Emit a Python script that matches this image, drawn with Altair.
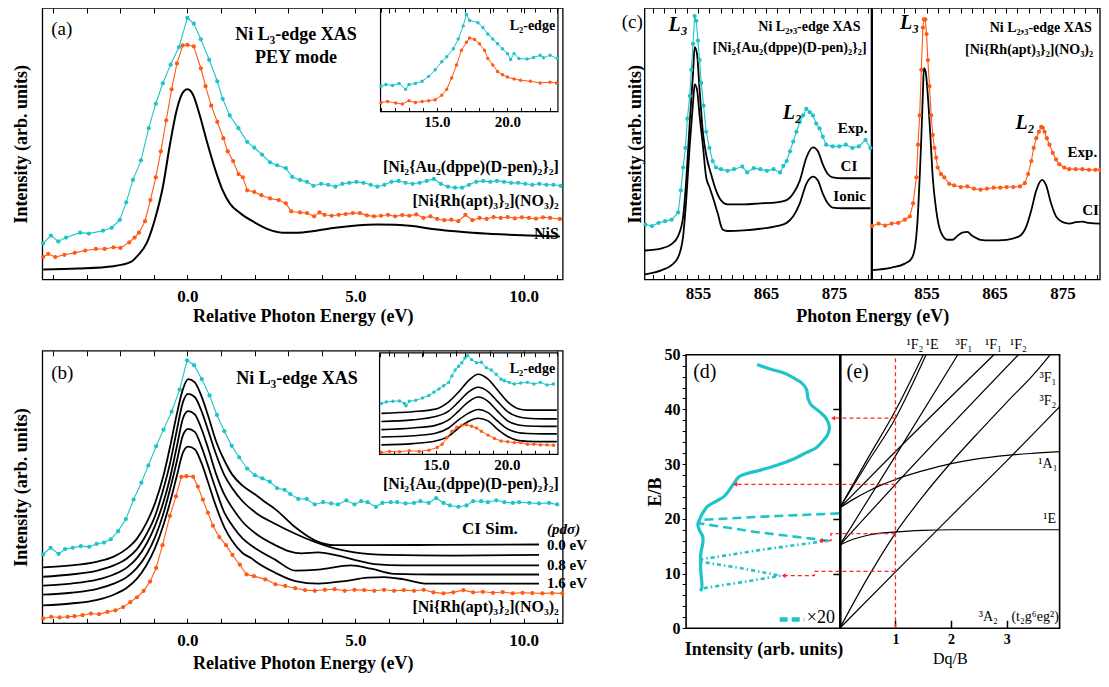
import altair as alt
import pandas as pd

# ======================= data =======================
# ---- panel (a): Ni L3-edge XAS, PEY mode (relative energy eV / intensity arb.)
A_CYAN_E = [-4.29,-4.06,-3.84,-3.61,-3.19,-2.93,-2.51,-2.25,-2.01,-1.82,-1.62,-1.38,-1.15,-0.94,-0.73,-0.50,-0.25,0.00,0.19,0.40,0.65,0.89,1.05,1.26,1.52,1.78,1.99,2.22,2.46,2.67,2.93,3.12,
            3.35,3.56,3.75,3.98,4.19,4.40,4.61,4.82,5.03,5.24,5.45,5.65,5.86,6.07,6.28,6.49,6.70,6.91,7.12,7.33,7.54,7.75,7.96,8.17,8.38,8.59,8.80,9.01,9.21,9.42,9.63,9.84,10.05,10.26,10.47,10.68,10.89,11.10]
A_CYAN_I = [37,45,39,43,48,47,50,53,61,79,102,122,155,180,201,220,238,268,262,246,225,203,185,168,155,141,135,128,120,117,114,105,
            102,100,96,98,97,95,98,99,100,99,97,95,97,100,101,99,98,99,101,103,98,95,94,94,97,100,101,100,101,100,99,99,98,97,98,97,97,96]
A_ORANGE_E = [-4.29,-4.14,-3.93,-3.66,-3.35,-3.04,-2.72,-2.46,-2.20,-1.99,-1.73,-1.57,-1.44,-1.26,-1.10,-0.94,-0.79,-0.63,-0.47,-0.31,-0.14,0.00,0.19,0.40,0.54,0.71,0.89,1.07,1.20,1.36,1.52,1.65,1.78,1.99,2.20,2.46,2.72,2.93,3.09,
              3.35,3.56,3.77,3.93,4.08,4.29,4.50,4.71,4.92,5.13,5.34,5.55,5.76,5.97,6.18,6.39,6.60,6.81,7.02,7.23,7.43,7.64,7.85,8.06,8.27,8.48,8.69,8.90,9.11,9.32,9.53,9.74,9.95,10.16,10.37,10.58,10.79,11.08]
A_ORANGE_I = [23,26.3,23,25.3,27.3,29.7,31.3,31.3,33,32.3,38,43,48,59.7,81.3,104.7,131.3,163,194.7,221.3,239.7,240.3,238.7,216.3,198,178,161.3,144.7,131.3,121.3,108,104.7,91.3,89.7,86.3,83,81.3,78,69.7,
              68.7,68,64.7,68.7,66.3,65.3,66.3,67,68,68,65.7,64.7,65.3,66.3,64.7,66,65.3,66.7,63,64.7,62,60.7,61.3,59.7,66.3,60.7,63,62,64,63,64,62.7,63.7,63,62.3,63.7,63,62]
A_NIS_E = [-4.29,-3.25,-2.20,-1.68,-1.47,-1.20,-0.94,-0.73,-0.52,-0.31,-0.10,0.00,0.16,0.37,0.58,0.84,1.05,1.26,1.57,1.99,2.41,2.83,3.25,3.77,4.40,5.03,5.65,6.18,6.70,7.23,7.85,8.48,9.32,10.37,11.08]
A_NIS_I = [10.3,11.3,13.7,18,24.7,38,64.7,94.7,138,174.7,193,194.7,189.7,168,141.3,111.3,91.3,78,68,58.7,51.3,48,48,49.7,53,55.3,56.3,56,54.7,52,49.7,48,46.3,44.7,44]
# inset of (a): L2-edge
AI_CYAN_E = [11.03,11.38,11.85,12.32,12.78,13.02,13.48,13.95,14.42,14.88,15.35,15.70,16.17,16.52,16.87,17.10,17.33,17.92,18.27,18.62,18.97,19.31,19.66,20.01,20.24,20.48,20.83,21.41,21.87,22.34,22.57,23.04,23.55]
AI_CYAN_I = [26,27.7,26.7,28.7,22.7,27.7,28.7,31,36,42.7,51,56,64.3,74.3,87.7,99.3,93.3,91,86,79.3,74.3,69.3,64.3,59.3,53.3,59.3,54.3,53.7,55.3,57.7,55,57.7,54.3]
AI_ORANGE_E = [11.03,11.50,12.08,12.55,13.02,13.48,13.95,14.42,14.88,15.35,15.70,16.05,16.40,16.75,17.10,17.33,17.68,18.03,18.38,18.62,18.97,19.31,19.66,20.01,20.48,20.94,21.64,22.34,23.04,23.50]
AI_ORANGE_I = [9.3,10.3,8.7,7.7,11,9.3,10.3,11,12,16.7,22.7,34.3,47.7,62.7,71,75.3,73.7,69.3,62.7,54.3,47.7,41,37.7,35.3,33.3,32,31,29.3,30,29.3]

# ---- panel (b): experiment vs CI simulations
B_CYAN_E = [-4.29,-4.07,-3.83,-3.64,-3.41,-3.17,-2.92,-2.70,-2.48,-2.28,-2.06,-1.83,-1.60,-1.37,-1.16,-0.93,-0.71,-0.47,-0.23,-0.01,0.20,0.43,0.66,0.88,1.10,1.32,1.54,1.78,2.01,2.23,2.45,2.67,2.89,
            3.06,3.30,3.55,3.79,4.04,4.28,4.48,4.73,4.97,5.17,5.36,5.61,5.80,6.05,6.24,6.49,6.74,6.93,7.18,7.40,7.62,7.81,8.06,8.30,8.50,8.74,8.94,9.19,9.43,9.68,9.87,10.17,10.46,10.76,11.00]
B_CYAN_I = [70.7,77.3,71,76,77.3,79,78.3,81.3,82.7,86,94.3,106.7,126.7,144,161.7,181.3,198.3,216.7,239.3,269.3,264.3,250,233.3,213.3,196.7,181.7,170,158.3,151.7,148.3,145,138.3,136.7,
            132.3,127.3,127.3,121.7,124,122.7,121.7,126,121.7,125,124,119.3,123.3,124,124,122.7,123.3,125,123.3,128.3,123.3,120.7,119.3,120.7,125,125,124,126,124,123.3,124,123.3,122.7,123.3,121.7]
B_ORANGE_E = [-4.29,-4.05,-3.80,-3.56,-3.36,-3.12,-2.87,-2.63,-2.38,-2.14,-1.91,-1.70,-1.50,-1.30,-1.11,-0.93,-0.74,-0.52,-0.34,-0.18,-0.03,0.17,0.31,0.46,0.61,0.76,0.95,1.15,1.34,1.56,1.76,1.98,
              2.32,2.62,2.91,3.21,3.50,3.79,4.09,4.38,4.68,4.97,5.26,5.56,5.85,6.15,6.44,6.74,7.03,7.32,7.62,7.91,8.21,8.50,8.79,9.09,9.38,9.68,9.97,10.26,10.56,10.85,11.15]
B_ORANGE_I = [5,6.7,6,6.7,7.3,8.3,10,9.3,11.7,13.3,16.7,21.7,26.7,33.3,42.7,56.7,80,110,130,150,150.7,150,140,126.7,113.3,100,88.3,80,70,60,50,48.3,
              45,40,38.3,36,34,33.3,34.3,35,33.3,34.3,34,33.3,34.3,33.3,34,33.3,34.3,31.7,30.7,31.7,34,31.7,32.3,31.3,32,30.7,31.3,31,30.7,31,30.7]
B_CI1_E = [-4.29,-3.46,-2.68,-2.19,-1.79,-1.50,-1.21,-0.96,-0.72,-0.52,-0.32,-0.13,0.02,0.22,0.41,0.61,0.85,1.10,1.34,1.64,1.93,2.03,2.32,2.62,3.21,3.79,4.38,5.50,7.50,10.46]
B_CI1_I = [57.3,59.3,63.3,68.3,76.7,86.7,103.3,123.3,150,180,213.3,240,250,246.7,233.3,213.3,186.7,166.7,152,141,134,131.7,124,116.7,98.3,85,80,80,80.3,80.7]
B_CI2_E = [-4.29,-3.46,-2.68,-2.19,-1.79,-1.50,-1.21,-0.96,-0.72,-0.52,-0.32,-0.13,0.02,0.22,0.41,0.61,0.85,1.10,1.34,1.64,1.93,2.03,2.62,3.21,3.79,4.38,4.97,5.95,7.91,10.46]
B_CI2_I = [47.7,50,54,59.3,66.7,76,91.7,110,136.7,163.3,196.7,226.7,235,231.7,218.3,198.3,173.3,151.7,138,125,116,113.3,101.7,91.7,83.3,76.7,72.7,70,69.3,70]
B_CI3_E = [-4.29,-3.46,-2.68,-2.19,-1.79,-1.50,-1.21,-0.96,-0.72,-0.52,-0.32,-0.13,0.02,0.22,0.41,0.61,0.85,1.10,1.34,1.64,2.03,2.62,3.01,3.40,3.89,4.38,4.97,5.56,6.44,10.46]
B_CI3_I = [38.7,40.7,44.7,50,57.3,66.7,81.7,100,123.3,148.3,180,210,217.3,214,200,180,153.3,131.7,118,104,92,80,74,71.7,72.7,70,65,60.7,59.3,59.3]
B_CI4_E = [-4.29,-3.46,-2.68,-2.19,-1.79,-1.50,-1.21,-0.96,-0.72,-0.52,-0.32,-0.13,0.02,0.22,0.41,0.61,0.85,1.10,1.34,1.64,1.93,2.03,2.62,3.21,3.89,4.87,5.46,6.15,7.42,10.46]
B_CI4_I = [29.3,31.3,35.3,40.7,47.7,56.7,70.7,88.3,111.7,136.7,165,192.7,199,196,181.7,161.7,136.7,113.3,100,87,79,76.7,65,54,55,59.3,56,50.7,50,50]
B_CI5_E = [-4.29,-3.46,-2.68,-2.19,-1.79,-1.50,-1.21,-0.96,-0.72,-0.52,-0.32,-0.13,0.02,0.22,0.41,0.61,0.85,1.10,1.34,1.64,1.93,2.03,2.62,3.21,3.89,4.68,5.36,5.85,6.44,7.13,10.46]
B_CI5_I = [18.3,20.3,24,29.3,36.7,45.7,60,77.3,100,123.3,150,175,181,178.3,165,145,120,98.3,84,72,66,63.3,51.7,43.3,40.7,43.3,46.7,47.3,45,40.7,40.7]
# inset of (b)
BI_CYAN_E = [11.13,11.48,11.94,12.41,12.76,12.87,13.10,13.56,14.03,14.49,14.84,15.19,15.53,15.88,16.11,16.34,16.58,16.81,17.03,17.22,17.50,17.85,18.19,18.54,18.89,19.24,19.58,19.81,20.16,20.51,20.97,21.44,21.90,22.36,22.83,23.28]
BI_CYAN_I = [52,53.7,54.3,54.7,52,49.7,54.3,55.3,57.7,60.3,63.7,67,70.3,73.7,80.3,86.3,90.3,93.7,98.7,101,97,93.7,94.3,88.7,86.3,82,77,75.3,73.7,72,73,73.7,72,73.7,71,72]
BI_ORANGE_E = [11.13,11.71,12.41,13.10,13.80,14.49,15.07,15.42,15.76,16.11,16.46,16.81,17.15,17.50,17.85,18.19,18.66,19.12,19.58,20.05,20.51,20.97,21.44,21.90,22.36,22.83,23.29]
BI_ORANGE_I = [2,3,2.7,3.7,3,4.3,7,10.3,17,23.7,27.7,29.7,30.3,28.7,27,23.7,19.7,16.3,13.7,13,12,12,10.3,10.3,9.7,9.7,9.3]
BI_CI_E = [11.13,13.33,14.95,15.88,16.58,17.27,17.97,18.66,19.36,20.05,20.74,21.44,22.59,23.52]
BI_CI1_I = [42,43.7,46.3,53.7,63.7,75.3,82,77,65.3,53.7,47,45.3,45.3,45.3]
BI_CI2_I = [33.7,35.3,38.7,44.3,53.7,63.7,68.7,64.3,53.7,43.7,38.7,37,36.3,36.3]
BI_CI3_I = [25.3,27,29.7,35.3,44.3,53.7,58.7,54.3,43.7,34.3,30.3,29,28.7,28.7]
BI_CI4_I = [17.7,19,21.7,27,35.3,42,46,42.7,33.7,26,22.3,21.3,21,21]
BI_CI5_I = [9.7,11,13.7,18.7,27,33.7,37,34.3,25.3,18.3,14.3,13.3,13,13]

# ---- panel (c): full L2,3-edge (photon energy eV / intensity arb.)
CL_CYAN_E = [847.28,848.24,849.20,850.17,851.13,852.10,852.49,852.83,853.16,853.45,853.80,854.03,854.28,854.52,854.76,855.00,855.24,855.48,855.83,856.21,856.69,857.17,857.66,858.38,859.35,860.32,861.52,862.25,863.21,864.18,865.14,866.11,867.08,867.56,868.04,868.53,869.01,869.49,869.98,870.46,870.94,871.43,871.91,872.39,872.88,873.36,873.84,874.81,875.77,876.74,877.71,878.67,879.64,880.36]
CL_CYAN_I = [56.3,54.7,58,59.7,61.3,68.7,91.3,114.7,134.7,164.7,188,214.7,241.3,269.7,264.7,244.7,224.7,201.3,178,151.3,134.7,121.3,114.7,113,111.3,113,115.7,109.7,114,113,111.3,113,109.7,116.3,121.3,131.3,141.3,151.3,161.3,168,174.7,171.3,168,159.7,154.7,146.3,138,136.3,136.3,138,134.7,136.3,143,134.7]
CL_CI_E = [847.20,849.69,851.13,852.10,852.83,853.31,853.80,854.28,854.52,854.86,855.24,855.72,856.30,856.93,857.66,858.38,859.35,861.76,864.18,866.59,868.04,869.01,869.98,870.94,871.91,872.64,873.36,874.09,874.81,876.26,878.67,880.36]
CL_CI_I = [29.7,32,36.3,44.7,64.7,104.7,161.3,211.3,238,231.3,194.7,151.3,124.7,108,91.3,81.3,77,77,78,79,81.3,88,101.3,124.7,135.3,131.3,118,108,104.7,103.7,103.7,103.7]
CL_ION_E = [847.20,849.69,851.13,852.10,852.83,853.31,853.80,854.28,854.52,854.86,855.24,855.72,856.21,856.69,857.17,857.90,858.62,859.35,861.76,864.18,866.59,868.04,869.01,869.98,870.94,871.91,872.64,873.36,874.09,874.81,876.26,880.36]
CL_ION_I = [5.3,9.7,14.7,23,44.7,84.7,138,181.3,199.7,194.7,168,138,104.7,94.7,84.7,68,51.3,49.7,50.3,52,54.7,58,64.7,78,98,105.3,101.3,88,78,73.7,73,73]
CR_ORANGE_E = [847.00,847.94,848.91,849.88,850.84,851.81,852.54,853.02,853.51,853.74,853.99,854.23,854.46,854.61,854.81,855.00,855.19,855.43,855.68,855.91,856.16,856.41,856.64,857.13,857.61,858.33,859.06,860.03,860.99,861.96,862.93,863.88,864.86,865.83,866.78,867.75,868.72,869.45,869.93,870.41,870.75,871.13,871.52,871.86,872.10,872.35,872.68,873.07,873.55,874.03,874.52,875.25,875.97,876.93,877.90,878.87,879.83,880.50]
CR_ORANGE_I = [54.7,57.3,55.3,57.3,58,61.3,64.7,78,104.7,138,168,214.7,258,266.3,266.3,251.3,224.7,198,168,148,134.7,124.7,114.7,108,104.7,98,96.3,94.7,95.3,93,92,93,94,94,94.7,94.7,95.3,98.7,108,121.3,134.7,144.7,151.3,156.3,155.3,151.3,144.7,138,129.7,123,118,114.7,113,113,113,112.3,112.3,112.3]
CR_CI_E = [847.00,849.88,851.81,852.78,853.26,853.65,853.99,854.23,854.46,854.61,854.86,855.19,855.58,855.91,856.41,857.13,858.09,858.81,859.54,860.26,860.99,861.71,862.93,864.38,866.78,868.72,869.68,870.41,871.13,872.00,872.58,873.30,874.03,875.00,875.97,876.93,877.90,878.87,880.50]
CR_CI_I = [9.7,12.3,16.3,21.3,31.3,58,104.7,144.7,191.3,216.3,213,188,144.7,104.7,71.3,48,40.7,40.7,44.7,48,48.7,44.7,40.7,40,40.7,44.7,54.7,71.3,91.3,102,96.3,78,64.7,58.7,57.3,58.7,59.3,58,57.3]

# ---- panel (d): spectrum plotted on the E/B axis
D_SPEC_I = [45.9,54.3,62.9,69.2,74.5,77.7,78.8,80.9,86.2,90.4,92.6,91.5,88.3,84.1,77.7,69.2,58.6,48.0,39.5,34.2,31.0,27.8,24.6,19.3,14.0,10.8,8.7,7.6,8.7,10.8,10.8,9.7,9.3,9.7,10.2,9.3]
D_SPEC_E = [48.2,47.4,46.7,45.8,44.9,43.75,42.0,40.8,39.6,38.4,36.9,35.4,34.2,33.0,32.1,30.9,29.8,28.9,28.3,27.7,26.5,25.2,24.1,23.2,22.3,21.1,19.9,19.05,17.9,16.7,15.5,14.0,12.2,9.8,7.4,6.8]
D_X20A_I = [99, 50, 9, 8, 45, 92]
D_X20A_E = [21.0, 20.4, 19.8, 19.2, 17.6, 16.0]
D_X20B_I = [92, 50, 10, 8.5, 35, 61, 40, 9]
D_X20B_E = [16.0, 14.4, 12.6, 12.2, 11.0, 9.6, 8.6, 7.2]

# ---- panel (e): Tanabe-Sugano levels (Dq/B, E/B)
TS_LINES = {
    "3T2":  ([0, 1, 2, 3, 3.95], [0, 10.3, 20.5, 30.6, 40.5]),
    "3T1F": ([0, 0.5, 1, 1.5, 2, 2.5, 3, 3.5, 3.78], [0, 9.2, 17.4, 24.2, 30.3, 35.9, 41.3, 46.6, 50]),
    "1E_D": ([0, 0.25, 0.5, 1, 1.5, 2, 2.5, 3.95], [15.2, 16.3, 17.0, 17.6, 17.9, 18.0, 18.0, 18.0]),
    "1A1":  ([0, 0.25, 0.5, 0.75, 1, 1.5, 2, 2.5, 3, 3.5, 3.95], [22.0, 23.6, 25.0, 26.2, 27.2, 28.8, 30.1, 31.0, 31.6, 32.0, 32.3]),
    "1E_G": ([0, 0.5, 1, 1.55], [22.0, 30.3, 38.4, 50]),
    "1T2G": ([0, 0.5, 1, 1.5], [22.0, 31.0, 39.8, 50]),
    "3T1P": ([0, 1, 2.12], [15.2, 31.5, 50]),
    "1T1G": ([0, 1, 2.77], [22.0, 32.3, 50]),
    "1T2D": ([0, 1, 3.21], [15.2, 26.3, 50]),
}
RED_PATHS = [
    ([1, 1], [0, 50]),
    ([1, -0.12], [38.4, 38.4]),
    ([1, -1.88], [26.3, 26.3]),
    ([1, -0.16, -0.16, -0.34], [17.3, 17.3, 16.0, 16.0]),
    ([1, -0.46, -0.46, -1.01], [10.4, 10.4, 9.6, 9.6]),
]
RED_TIPS_DQ = [-0.12, -1.88, -0.34, -1.01]
RED_TIPS_E = [38.4, 26.3, 16.0, 9.6]

# ---- axis domains and ticks
A_XDOM = [-4.31, 11.17]
A_YDOM = [0, 278]
B_YDOM = [0, 279]
IN_XDOM = [11.0, 23.6]
AI_YDOM = [0, 106]
BI_YDOM = [0, 104]
CL_XDOM = [847.17, 880.5]
CR_XDOM = [847.03, 880.5]
C_YDOM = [0, 278]
D_XDOM = [0, 100]
D_YDOM = [0, 50]
E_XDOM = [0, 3.95]
A_TICKS = list(range(-4, 12))
A_LABELS = [0, 5, 10]
IN_TICKS = list(range(11, 24))
IN_LABELS = [15, 20]
C_TICKS = [round(855 + k * 5 / 3, 2) for k in range(-4, 16)]
C_LABELS = [855, 865, 875]
D_TICKS = list(range(0, 51, 2))
E_LABELS = [1, 2, 3]
E_LEFT_TICKS = [10, 20, 30, 40]

# ======================= drawing =======================
W, H = 1093, 671
SX, SY = W / 1109.0, H / 687.0
FONT = "Liberation Serif"
CYAN = "#1fc4c9"
ORANGE = "#ff5a16"
RED = "#ff2424"
ONE = pd.DataFrame({"k": [0]})


def px(v):
    return v * SX


def py(v):
    return v * SY


def scales(xdom, x0, x1, ydom, yb, yt):
    return {
        "x": alt.Scale(domain=list(xdom), range=[px(x0), px(x1)], nice=False, zero=False),
        "y": alt.Scale(domain=list(ydom), range=[py(yb), py(yt)], nice=False, zero=False),
        "xd": list(xdom), "yd": list(ydom),
    }


SA = scales(A_XDOM, 35, 563, A_YDOM, 278, 0)
SAI = scales(IN_XDOM, 378, 558, AI_YDOM, 106, 0)
SB = scales(A_XDOM, 35, 563, B_YDOM, 630, 351)
SBI = scales(IN_XDOM, 377, 558, BI_YDOM, 457, 353)
SCL = scales(CL_XDOM, 646, 876, C_YDOM, 278, 0)
SCR = scales(CR_XDOM, 877, 1108, C_YDOM, 278, 0)
SCT = scales([0, 1], 646, 1108, C_YDOM, 278, 0)
SD = scales(D_XDOM, 688, 845, D_YDOM, 635, 355)
SE = scales(E_XDOM, 844, 1067, D_YDOM, 635, 355)


def xy(S, x, y, xaxis=None, yaxis=None):
    return dict(
        x=alt.XDatum(x, type="quantitative", scale=S["x"], axis=xaxis),
        y=alt.YDatum(y, type="quantitative", scale=S["y"], axis=yaxis),
    )


def series(S, E, I, color, width=1.3, dash=None, interp="linear", points=False, psize=18):
    df = pd.DataFrame({"x": E, "y": I, "o": list(range(len(E)))})
    enc = dict(x=alt.X("x:Q", scale=S["x"], axis=None), y=alt.Y("y:Q", scale=S["y"], axis=None))
    kw = dict(color=color, strokeWidth=width, interpolate=interp)
    if dash:
        kw["strokeDash"] = dash
    out = [alt.Chart(df).mark_line(**kw).encode(order=alt.Order("o:Q"), **enc)]
    if points:
        out.append(alt.Chart(df).mark_circle(color=color, size=psize, opacity=1).encode(**enc))
    return out


def label(S, t, x, y, size=15, weight="bold", align="center", style="normal"):
    return alt.Chart(ONE).mark_text(
        text=t, font=FONT, fontSize=size, fontWeight=weight, fontStyle=style,
        align=align, baseline="middle", color="black"
    ).encode(**xy(S, x, y))


def frame(S, sw=1.3):
    return alt.Chart(ONE).mark_rect(fillOpacity=0, stroke="black", strokeWidth=sw).encode(
        x=alt.XDatum(S["xd"][0], type="quantitative", scale=S["x"], axis=None),
        x2=alt.X2Datum(S["xd"][1]),
        y=alt.YDatum(S["yd"][0], type="quantitative", scale=S["y"], axis=None),
        y2=alt.Y2Datum(S["yd"][1]),
    )


BASE = dict(grid=False, domain=False, labelFont=FONT, titleFont=FONT, labelColor="black",
            titleColor="black", tickColor="black")


def xaxis_layer(S, axis):
    return alt.Chart(ONE).mark_point(opacity=0).encode(**xy(S, S["xd"][0], S["yd"][0], xaxis=axis))


def yaxis_layer(S, axis):
    return alt.Chart(ONE).mark_point(opacity=0).encode(**xy(S, S["xd"][0], S["yd"][0], yaxis=axis))


def ticks_in_bottom(edge, values, size=5):
    return alt.Axis(orient="top", offset=-py(edge), values=values, labels=False, ticks=True,
                    tickSize=size, tickWidth=1, title=None, **BASE)


def ticks_in_top(edge, values, size=5):
    return alt.Axis(orient="bottom", offset=py(edge) - H, values=values, labels=False, ticks=True,
                    tickSize=size, tickWidth=1, title=None, **BASE)


def labels_bottom(edge, values, fmt, size, pad, title=None, tsize=18, tpad=3, tweight="bold"):
    kw = dict(orient="bottom", offset=py(edge) - H, values=values, format=fmt, labels=True,
              ticks=False, labelFontSize=size, labelFontWeight="bold", labelPadding=pad,
              minExtent=0, labelFlush=False, labelOverlap=False, **BASE)
    if title:
        kw.update(title=title, titleFontSize=tsize, titleFontWeight=tweight, titlePadding=tpad)
    else:
        kw["title"] = None
    return alt.Axis(**kw)


def ytitle(edge, title, pad, size=18):
    return alt.Axis(orient="left", offset=-px(edge), labels=False, ticks=False, title=title,
                    titleFontSize=size, titleFontWeight="bold", titlePadding=pad, minExtent=0, **BASE)


layers = []

# ---------------- panel (a) ----------------
layers += [frame(SA), frame(SAI, 1.2)]
layers += series(SA, A_NIS_E, A_NIS_I, "black", width=2.0, interp="monotone")
layers += series(SA, A_ORANGE_E, A_ORANGE_I, ORANGE, width=1.1, points=True)
layers += series(SA, A_CYAN_E, A_CYAN_I, CYAN, width=1.1, points=True)
layers += series(SAI, AI_ORANGE_E, AI_ORANGE_I, ORANGE, width=1.0, points=True, psize=12)
layers += series(SAI, AI_CYAN_E, AI_CYAN_I, CYAN, width=1.0, points=True, psize=12)
layers += [
    xaxis_layer(SA, ticks_in_bottom(278, A_TICKS)),
    xaxis_layer(SA, ticks_in_top(0, A_TICKS)),
    xaxis_layer(SA, labels_bottom(278, A_LABELS, ".1f", 17, 9, "Relative Photon Energy (eV)", tpad=3)),
    yaxis_layer(SA, ytitle(35, "Intensity (arb. units)", 12)),
    xaxis_layer(SAI, ticks_in_bottom(106, IN_TICKS, 4)),
    xaxis_layer(SAI, ticks_in_top(0, IN_TICKS, 4)),
    xaxis_layer(SAI, labels_bottom(106, IN_LABELS, ".1f", 15, 3)),
    label(SA, "(a)", -4.05, 256, size=19, weight="normal", align="left"),
    label(SA, "Ni L₃-edge XAS", 3.23, 250, size=18),
    label(SA, "PEY mode", 3.23, 227, size=18),
    label(SA, "[Ni₂{Au₂(dppe)(D-pen)₂}₂]", 11.05, 115, size=16, align="right"),
    label(SA, "[Ni{Rh(apt)₃}₂](NO₃)₂", 11.05, 80, size=16, align="right"),
    label(SA, "NiS", 11.05, 47, size=16, align="right"),
    label(SAI, "L₂-edge", 23.4, 88, size=14, align="right"),
]

# ---------------- panel (b) ----------------
layers += [frame(SB), frame(SBI, 1.2)]
for ci_e, ci_i in [(B_CI1_E, B_CI1_I), (B_CI2_E, B_CI2_I), (B_CI3_E, B_CI3_I),
                   (B_CI4_E, B_CI4_I), (B_CI5_E, B_CI5_I)]:
    layers += series(SB, ci_e, ci_i, "black", width=1.8, interp="monotone")
layers += series(SB, B_ORANGE_E, B_ORANGE_I, ORANGE, width=1.1, points=True)
layers += series(SB, B_CYAN_E, B_CYAN_I, CYAN, width=1.1, points=True)
for ci_i in [BI_CI1_I, BI_CI2_I, BI_CI3_I, BI_CI4_I, BI_CI5_I]:
    layers += series(SBI, BI_CI_E, ci_i, "black", width=1.6, interp="monotone")
layers += series(SBI, BI_ORANGE_E, BI_ORANGE_I, ORANGE, width=1.0, points=True, psize=12)
layers += series(SBI, BI_CYAN_E, BI_CYAN_I, CYAN, width=1.0, points=True, psize=12)
layers += [
    xaxis_layer(SB, ticks_in_bottom(630, A_TICKS)),
    xaxis_layer(SB, ticks_in_top(351, A_TICKS)),
    xaxis_layer(SB, labels_bottom(630, A_LABELS, ".1f", 17, 9, "Relative Photon Energy (eV)", tpad=6)),
    yaxis_layer(SB, ytitle(35, "Intensity (arb. units)", 12)),
    xaxis_layer(SBI, ticks_in_bottom(457, IN_TICKS, 4)),
    xaxis_layer(SBI, ticks_in_top(353, IN_TICKS, 4)),
    xaxis_layer(SBI, labels_bottom(457, IN_LABELS, ".1f", 15, 3)),
    label(SB, "(b)", -4.05, 256, size=19, weight="normal", align="left"),
    label(SB, "Ni L₃-edge XAS", 3.26, 250, size=18),
    label(SB, "[Ni₂{Au₂(dppe)(D-pen)₂}₂]", 11.05, 143, size=16, align="right"),
    label(SB, "CI Sim.", 9.0, 97, size=17),
    label(SB, "(pdσ)", 10.7, 97, size=15, align="left", style="italic"),
    label(SB, "0.0 eV", 10.7, 80, size=15, align="left"),
    label(SB, "0.8 eV", 10.7, 59.3, size=15, align="left"),
    label(SB, "1.6 eV", 10.7, 41, size=15, align="left"),
    label(SB, "[Ni{Rh(apt)₃}₂](NO₃)₂", 11.05, 17, size=16, align="right"),
    label(SBI, "L₂-edge", 23.4, 87, size=14, align="right"),
]

# ---------------- panel (c) ----------------
layers += [frame(SCL), frame(SCR)]
layers += series(SCL, CL_ION_E, CL_ION_I, "black", width=1.8, interp="monotone")
layers += series(SCL, CL_CI_E, CL_CI_I, "black", width=1.8, interp="monotone")
layers += series(SCL, CL_CYAN_E, CL_CYAN_I, CYAN, width=1.1, points=True)
layers += series(SCR, CR_CI_E, CR_CI_I, "black", width=1.8, interp="monotone")
layers += series(SCR, CR_ORANGE_E, CR_ORANGE_I, ORANGE, width=1.1, points=True)
for S in (SCL, SCR):
    layers += [
        xaxis_layer(S, ticks_in_bottom(278, C_TICKS, 5)),
        xaxis_layer(S, ticks_in_top(0, C_TICKS, 5)),
        xaxis_layer(S, labels_bottom(278, C_LABELS, "d", 17, 6)),
    ]
layers += [
    xaxis_layer(SCT, alt.Axis(orient="bottom", offset=py(278) - H, labels=False, ticks=False,
                              title="Photon Energy (eV)", titleFontSize=18, titleFontWeight="bold",
                              titlePadding=28, minExtent=0, **BASE)),
    yaxis_layer(SCL, ytitle(646, "Intensity (arb. units)", 0)),
    label(SCL, "(c)", 846.9, 264, size=19, weight="normal", align="right"),
    label(SCL, "L₃", 852.1, 261, size=20, style="italic"),
    label(SCL, "Ni L₂,₃-edge XAS", 878.9, 259, size=14, align="right"),
    label(SCL, "[Ni₂{Au₂(dppe)(D-pen)₂}₂]", 879.8, 237, size=14, align="right"),
    label(SCL, "L₂", 868.9, 171, size=20, style="italic"),
    label(SCL, "Exp.", 877.75, 155, size=15),
    label(SCL, "CI", 877.2, 116, size=15),
    label(SCL, "Ionic", 877.3, 86, size=15),
    label(SCR, "L₃", 852.5, 263, size=20, style="italic"),
    label(SCR, "Ni L₂,₃-edge XAS", 879.3, 258, size=14, align="right"),
    label(SCR, "[Ni{Rh(apt)₃}₂](NO₃)₂", 879.5, 235, size=14, align="right"),
    label(SCR, "L₂", 869.5, 160, size=20, style="italic"),
    label(SCR, "Exp.", 877.9, 131, size=15),
    label(SCR, "CI", 879.1, 71, size=15),
]

# ---------------- panel (d) ----------------
layers += [frame(SD, 1.6)]
layers += series(SD, D_SPEC_I, D_SPEC_E, CYAN, width=3.2, interp="catmull-rom")
layers += series(SD, D_X20A_I, D_X20A_E, CYAN, width=2.6, dash=[9, 5])
layers += series(SD, D_X20B_I, D_X20B_E, CYAN, width=2.6, dash=[4, 3, 1.5, 3])
layers += series(SD, [60.5, 76.4], [1.6, 1.6], CYAN, width=4.5, dash=[8, 4])
layers += [
    yaxis_layer(SD, alt.Axis(orient="left", offset=-px(688), values=D_TICKS,
                             labelExpr="datum.value % 10 === 0 ? datum.label : ''",
                             ticks=True, tickSize=4, tickWidth=1, labelFontSize=16, labelFontWeight="bold",
                             labelPadding=2, labelFlush=False, labelOverlap=False,
                             title="E/B", titleFontSize=18, titleFontWeight="bold", titlePadding=0,
                             minExtent=0, **BASE)),
    xaxis_layer(SD, alt.Axis(orient="bottom", offset=py(635) - H, labels=False, ticks=False,
                             title="Intensity (arb. units)", titleFontSize=18, titleFontWeight="bold",
                             titlePadding=12, minExtent=0, **BASE)),
    label(SD, "(d)", 12.1, 46.8, size=20, weight="normal"),
    label(SD, "×20", 78, 1.8, size=18, weight="normal", align="left"),
]

# ---------------- panel (e) ----------------
layers += [frame(SE, 1.6)]
for name, (dq, ee) in TS_LINES.items():
    layers += series(SE, dq, ee, "black", width=1.2, interp="monotone")
for dq, ee in RED_PATHS:
    layers += series(SE, dq, ee, RED, width=1.3, dash=[4, 3])
tips = pd.DataFrame({"x": RED_TIPS_DQ, "y": RED_TIPS_E})
layers += [
    alt.Chart(tips).mark_point(shape="triangle-left", filled=True, color=RED, size=22, opacity=1).encode(
        x=alt.X("x:Q", scale=SE["x"], axis=None), y=alt.Y("y:Q", scale=SE["y"], axis=None)),
    xaxis_layer(SE, alt.Axis(orient="top", offset=-py(635), values=E_LABELS, labels=False, ticks=True,
                             tickSize=8, tickWidth=1.5, title=None, **BASE)),
    xaxis_layer(SE, labels_bottom(635, E_LABELS, "d", 14, 4, "Dq/B", tsize=16, tpad=4, tweight="normal")),
    yaxis_layer(SE, alt.Axis(orient="left", offset=-px(845), values=E_LEFT_TICKS, labels=False,
                             ticks=True, tickSize=8, tickWidth=1.5, title=None, **BASE)),
    label(SE, "(e)", 0.32, 46.8, size=20, weight="normal"),
    label(SE, "¹F₂", 1.35, 51.7, size=14, weight="normal"),
    label(SE, "¹E", 1.66, 51.7, size=14, weight="normal"),
    label(SE, "³F₁", 2.23, 51.7, size=14, weight="normal"),
    label(SE, "¹F₁", 2.76, 51.7, size=14, weight="normal"),
    label(SE, "¹F₂", 3.21, 51.7, size=14, weight="normal"),
    label(SE, "³F₁", 3.74, 45.7, size=14, weight="normal"),
    label(SE, "³F₂", 3.74, 41.6, size=14, weight="normal"),
    label(SE, "¹A₁", 3.74, 30.0, size=14, weight="normal"),
    label(SE, "¹E", 3.77, 20.0, size=14, weight="normal"),
    label(SE, "³A₂", 2.67, 2.1, size=14, weight="normal"),
    label(SE, "(t₂g⁶eg²)", 3.51, 2.1, size=14, weight="normal"),
]

chart = (
    alt.layer(*layers)
    .resolve_scale(x="independent", y="independent")
    .resolve_axis(x="independent", y="independent")
    .properties(width=W, height=H, padding=0, autosize=alt.AutoSizeParams(type="none"))
    .configure_view(strokeOpacity=0)
)

chart.save("out.html", embed_options={"renderer": "svg", "actions": False})
